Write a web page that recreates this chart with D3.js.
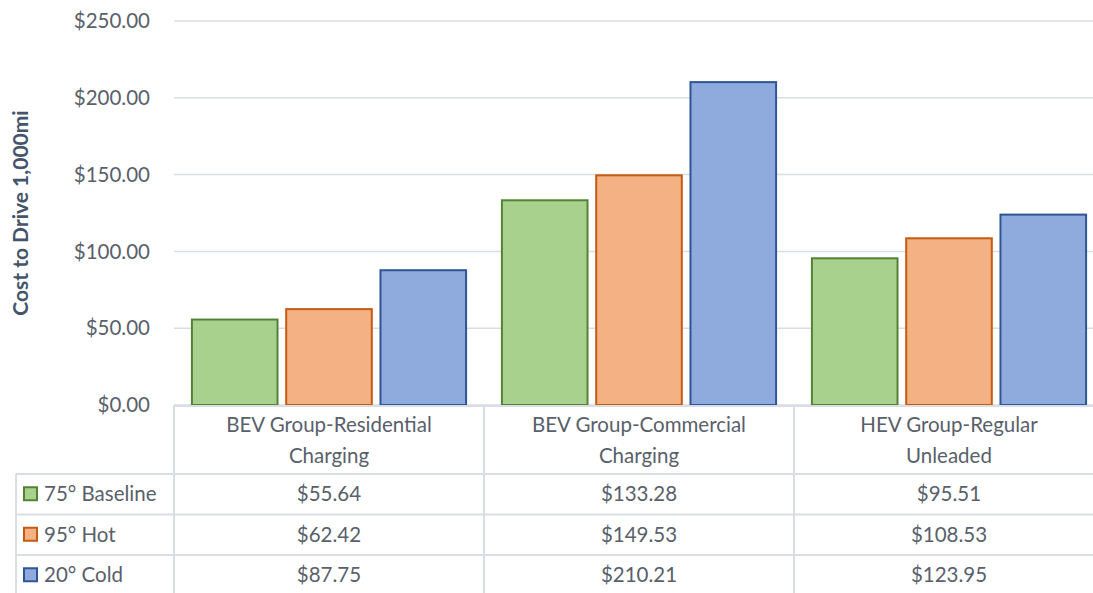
<!DOCTYPE html>
<html>
<head>
<meta charset="utf-8">
<script src="https://cdn.jsdelivr.net/npm/d3@7"></script>
<style>
  body { margin: 0; background: #fff; }
  svg text { font-family: Lato, "Open Sans", sans-serif; fill: #595f6b; }
</style>
</head>
<body>
<svg id="chart" width="1093" height="593"></svg>
<script>
const categories = [
    ['BEV Group-Residential', 'Charging'],
    ['BEV Group-Commercial', 'Charging'],
    ['HEV Group-Regular', 'Unleaded'],
];
const seriesNames = ['75° Baseline', '95° Hot', '20° Cold'];
const baseline = [55.64, 133.28, 95.51];
const hot = [62.42, 149.53, 108.53];
const cold = [87.75, 210.21, 123.95];
const yTicks = [0, 50, 100, 150, 200, 250];

const seriesValues = [baseline, hot, cold];
const fills = ['#a9d18e', '#f4b183', '#8faadc'];
const strokes = ['#548235', '#c55a11', '#2f5597'];
const gridColor = '#d9dee6';
const fontSize = 20.5;

const svg = d3.select('#chart');
const plotLeft = 174, plotRight = 1104, plotTop = 21, plotBottom = 405;

const x = d3.scaleBand()
    .domain(d3.range(categories.length))
    .range([plotLeft, plotRight]);
const xs = d3.scaleBand()
    .domain(d3.range(seriesNames.length))
    .range([0, x.bandwidth()])
    .paddingInner(0.092)
    .paddingOuter(0.19);
const y = d3.scaleLinear().domain([0, 250]).range([plotBottom, plotTop]);

// gridlines
svg.append('g')
    .selectAll('line')
    .data(yTicks)
    .join('line')
    .attr('x1', plotLeft).attr('x2', plotRight)
    .attr('y1', d => y(d)).attr('y2', d => y(d))
    .attr('stroke', gridColor).attr('stroke-width', 1.5);

// y axis labels
const fmt = d3.format('$,.2f');
svg.append('g')
    .selectAll('text')
    .data(yTicks)
    .join('text')
    .attr('x', 150).attr('y', d => y(d))
    .attr('dy', '0.35em')
    .attr('text-anchor', 'end')
    .attr('font-size', fontSize)
    .text(d => fmt(d));

svg.append('text')
    .attr('transform', 'translate(21,' + (plotTop + plotBottom) / 2 + ') rotate(-90)')
    .attr('text-anchor', 'middle')
    .attr('dy', '0.35em')
    .attr('font-size', 21)
    .attr('font-weight', 'bold')
    .style('fill', '#44546a')
    .text('Cost to Drive 1,000mi');

// bars
seriesValues.forEach((vals, s) => {
    svg.append('g')
        .selectAll('rect')
        .data(vals)
        .join('rect')
        .attr('x', (d, i) => x(i) + xs(s))
        .attr('y', d => y(d))
        .attr('width', xs.bandwidth())
        .attr('height', d => y(0) - y(d))
        .attr('fill', fills[s])
        .attr('stroke', strokes[s])
        .attr('stroke-width', 2);
});

// data table
const headerBottom = 474, rowH = 40.5;
const table = svg.append('g').attr('stroke', gridColor).attr('stroke-width', 2);
d3.range(categories.length + 1).forEach(i => {
    const xv = i < categories.length ? x(i) : plotRight;
    table.append('line')
        .attr('x1', xv).attr('x2', xv)
        .attr('y1', plotBottom).attr('y2', 593);
});
table.append('line').attr('x1', 16).attr('x2', 16).attr('y1', headerBottom).attr('y2', 593);
table.append('line').attr('x1', plotLeft).attr('x2', plotRight).attr('y1', plotBottom + 1).attr('y2', plotBottom + 1);
seriesNames.forEach((n, r) => {
    const yy = headerBottom + r * rowH;
    table.append('line').attr('x1', 16).attr('x2', plotRight).attr('y1', yy).attr('y2', yy);
});

// header text
categories.forEach((lines, i) => {
    const t = svg.append('text')
        .attr('text-anchor', 'middle')
        .attr('font-size', fontSize);
    lines.forEach((ln, k) => {
        t.append('tspan')
            .attr('x', x(i) + x.bandwidth() / 2)
            .attr('y', 432 + k * 31)
            .text(ln);
    });
});

// rows
seriesNames.forEach((name, s) => {
    const cy = headerBottom + s * rowH + rowH / 2;
    svg.append('rect')
        .attr('x', 24).attr('y', cy - 7)
        .attr('width', 13).attr('height', 13)
        .attr('fill', fills[s]).attr('stroke', strokes[s]).attr('stroke-width', 2);
    svg.append('text')
        .attr('x', 44).attr('y', cy).attr('dy', '0.35em')
        .attr('font-size', fontSize)
        .text(name);
    seriesValues[s].forEach((v, i) => {
        svg.append('text')
            .attr('x', x(i) + x.bandwidth() / 2).attr('y', cy).attr('dy', '0.35em')
            .attr('text-anchor', 'middle')
            .attr('font-size', fontSize)
            .text(fmt(v));
    });
});
</script>
</body>
</html>
